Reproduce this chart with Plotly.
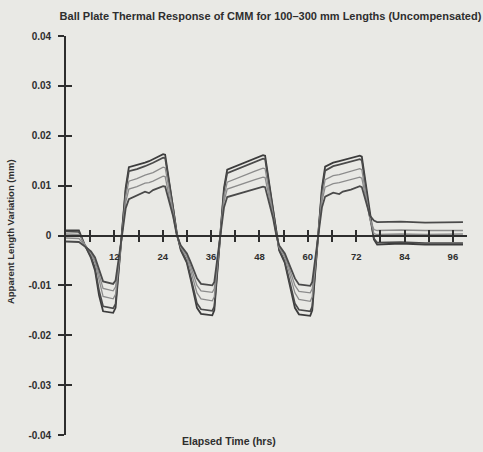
import plotly.graph_objects as go

# Elapsed time (hrs)
hours = [0, 3.2, 4.7, 6.2, 7.2, 8.2, 9.2, 11.7, 12.3, 13.9, 14.8, 15.6, 17.6, 19.6, 20.6, 21.6,
         24.1, 24.6, 26.6, 27.5, 28.5, 30.0, 31.0, 32.5, 33.5, 36.3, 36.8, 38.2, 39.2, 40.0,
         42.4, 44.9, 46.9, 48.9, 49.4, 51.4, 52.2, 52.9, 54.3, 55.3, 56.8, 57.8, 60.6, 61.1,
         62.5, 63.5, 64.3, 66.3, 67.8, 68.7, 70.7, 72.9, 73.4, 75.4, 76.4, 77.2, 83.1, 89.1, 98.5]

len_300 = [0.0010, 0.0010, -0.0020, -0.0045, -0.0070, -0.0120, -0.0152, -0.0155, -0.0145, 0.0000,
           0.0095, 0.0137, 0.0141, 0.0146, 0.0149, 0.0153, 0.0163, 0.0162, 0.0060, 0.0005,
           -0.0030, -0.0055, -0.0090, -0.0145, -0.0157, -0.0160, -0.0150, 0.0000, 0.0095, 0.0132,
           0.0140, 0.0149, 0.0155, 0.0161, 0.0160, 0.0050, 0.0000, -0.0030, -0.0055, -0.0090,
           -0.0145, -0.0158, -0.0161, -0.0150, 0.0000, 0.0095, 0.0138, 0.0146, 0.0149, 0.0151,
           0.0155, 0.0160, 0.0158, 0.0040, -0.0008, -0.0018, -0.0016, -0.0018, -0.0018]

len_250 = [0.0008, 0.0007, -0.0020, -0.0042, -0.0065, -0.0110, -0.0142, -0.0146, -0.0137, 0.0000,
           0.0090, 0.0129, 0.0133, 0.0139, 0.0142, 0.0146, 0.0156, 0.0155, 0.0055, 0.0003,
           -0.0028, -0.0052, -0.0085, -0.0136, -0.0148, -0.0151, -0.0142, 0.0000, 0.0090, 0.0125,
           0.0133, 0.0142, 0.0148, 0.0154, 0.0153, 0.0048, 0.0000, -0.0028, -0.0052, -0.0085,
           -0.0136, -0.0149, -0.0152, -0.0142, 0.0000, 0.0090, 0.0130, 0.0139, 0.0142, 0.0144,
           0.0148, 0.0153, 0.0151, 0.0038, -0.0006, -0.0014, -0.0013, -0.0015, -0.0015]

len_200 = [0.0003, 0.0002, -0.0018, -0.0036, -0.0055, -0.0092, -0.0122, -0.0127, -0.0118, 0.0000,
           0.0078, 0.0109, 0.0114, 0.0121, 0.0123, 0.0126, 0.0137, 0.0136, 0.0048, 0.0002,
           -0.0024, -0.0045, -0.0072, -0.0115, -0.0127, -0.0131, -0.0123, 0.0000, 0.0078, 0.0107,
           0.0115, 0.0123, 0.0129, 0.0135, 0.0134, 0.0042, 0.0000, -0.0024, -0.0045, -0.0072,
           -0.0115, -0.0128, -0.0132, -0.0123, 0.0000, 0.0078, 0.0112, 0.0120, 0.0122, 0.0124,
           0.0128, 0.0134, 0.0132, 0.0034, 0.0004, 0.0002, 0.0003, 0.0002, 0.0003]

len_150 = [-0.0005, -0.0006, -0.0020, -0.0034, -0.0050, -0.0080, -0.0106, -0.0111, -0.0103, 0.0000,
           0.0066, 0.0093, 0.0098, 0.0105, 0.0106, 0.0109, 0.0119, 0.0118, 0.0042, 0.0001,
           -0.0022, -0.0040, -0.0063, -0.0100, -0.0111, -0.0114, -0.0107, 0.0000, 0.0068, 0.0093,
           0.0100, 0.0107, 0.0112, 0.0117, 0.0116, 0.0038, 0.0000, -0.0022, -0.0040, -0.0063,
           -0.0100, -0.0112, -0.0115, -0.0107, 0.0000, 0.0068, 0.0097, 0.0104, 0.0106, 0.0108,
           0.0111, 0.0117, 0.0115, 0.0034, 0.0012, 0.0010, 0.0011, 0.0010, 0.0010]

len_100 = [-0.0012, -0.0013, -0.0022, -0.0032, -0.0044, -0.0068, -0.0092, -0.0097, -0.0090, 0.0000,
           0.0054, 0.0073, 0.0080, 0.0088, 0.0085, 0.0091, 0.0099, 0.0098, 0.0038, 0.0000,
           -0.0020, -0.0036, -0.0055, -0.0086, -0.0097, -0.0100, -0.0093, 0.0000, 0.0056, 0.0077,
           0.0083, 0.0089, 0.0093, 0.0098, 0.0097, 0.0034, 0.0000, -0.0020, -0.0036, -0.0055,
           -0.0086, -0.0098, -0.0101, -0.0093, 0.0000, 0.0056, 0.0078, 0.0086, 0.0083, 0.0088,
           0.0092, 0.0099, 0.0097, 0.0040, 0.0030, 0.0027, 0.0028, 0.0026, 0.0027]

series_names = ["300 mm", "250 mm", "200 mm", "150 mm", "100 mm"]
series_values = [len_300, len_250, len_200, len_150, len_100]
series_colors = ["#3c3c3c", "#4a4a4a", "#8c8c8c", "#8c8c8c", "#4a4a4a"]
series_widths = [1.8, 1.7, 1.3, 1.3, 1.8]

x_tick_vals = [6, 12, 18, 24, 30, 36, 42, 48, 54, 60, 66, 72, 78, 84, 90, 96]
x_tick_text = ["", "12", "", "24", "", "36", "", "48", "", "60", "", "72", "", "84", "", "96"]
y_tick_vals = [0.04, 0.03, 0.02, 0.01, 0, -0.01, -0.02, -0.03, -0.04]
y_tick_text = ["0.04", "0.03", "0.02", "0.01", "0", "-0.01", "-0.02", "-0.03", "-0.04"]

FONT = "Liberation Sans, Arial, sans-serif"
INK = "#2e2e2e"
BG = "#e9e9e5"
X_RANGE = [0, 99.5]
Y_RANGE = [-0.04, 0.04]

fig = go.Figure()
for name, vals, col, w in zip(series_names, series_values, series_colors, series_widths):
    fig.add_trace(go.Scatter(x=hours, y=vals, mode="lines", name=name,
                             line=dict(color=col, width=w), hoverinfo="skip"))

# invisible trace so the overlay axes (for crossing ticks) get drawn
fig.add_trace(go.Scatter(x=hours[:1], y=len_300[:1], xaxis="x2", yaxis="y2",
                         mode="markers", marker=dict(opacity=0), showlegend=False,
                         hoverinfo="skip"))

xtickfont = dict(family=FONT, size=9.5, color=INK, weight="bold")
ytickfont = dict(family=FONT, size=10, color=INK, weight="bold")

fig.update_layout(
    width=483, height=452,
    margin=dict(l=66, r=16, t=36, b=11),
    paper_bgcolor=BG, plot_bgcolor=BG,
    showlegend=False,
    title=dict(text="Ball Plate Thermal Response of CMM for 100–300 mm Lengths (Uncompensated)",
               x=0.56, xanchor="center", y=1 - 16 / 452, yanchor="middle", yref="container",
               font=dict(family=FONT, size=11, color=INK, weight="bold")),
    xaxis=dict(range=X_RANGE, anchor="free", position=0.5, showgrid=False, zeroline=False,
               showline=True, linecolor=INK, linewidth=1.6,
               ticks="outside", ticklen=6, tickwidth=1.5, tickcolor=INK,
               tickvals=x_tick_vals, ticktext=x_tick_text, tickfont=xtickfont,
               ticklabelstandoff=6),
    xaxis2=dict(range=X_RANGE, overlaying="x", anchor="free", position=0.5, showgrid=False,
                zeroline=False, showline=False, ticks="inside", ticklen=6, tickwidth=1.5,
                tickcolor=INK, tickvals=x_tick_vals, showticklabels=False),
    yaxis=dict(range=Y_RANGE, anchor="x", showgrid=False, zeroline=False,
               showline=True, linecolor=INK, linewidth=1.6,
               ticks="outside", ticklen=6, tickwidth=1.5, tickcolor=INK,
               tickvals=y_tick_vals, ticktext=y_tick_text, tickfont=ytickfont,
               ticklabelstandoff=5),
    yaxis2=dict(range=Y_RANGE, overlaying="y", anchor="x", side="left", showgrid=False,
                zeroline=False, showline=False, ticks="inside", ticklen=6, tickwidth=1.5,
                tickcolor=INK, tickvals=y_tick_vals, showticklabels=False),
)

fig.add_annotation(text="Elapsed Time (hrs)", xref="paper", yref="paper",
                   x=(229 - 66) / 401, y=(441 - 447) / 405, xanchor="center", yanchor="middle",
                   showarrow=False, font=dict(family=FONT, size=10.5, color=INK, weight="bold"))
fig.add_annotation(text="Apparent Length Variation (mm)", xref="paper", yref="paper",
                   x=(10 - 66) / 401, y=(441 - 235) / 405, xanchor="center", yanchor="middle",
                   textangle=-90, showarrow=False,
                   font=dict(family=FONT, size=9.5, color=INK, weight="bold"))

fig.write_html("out.html")
